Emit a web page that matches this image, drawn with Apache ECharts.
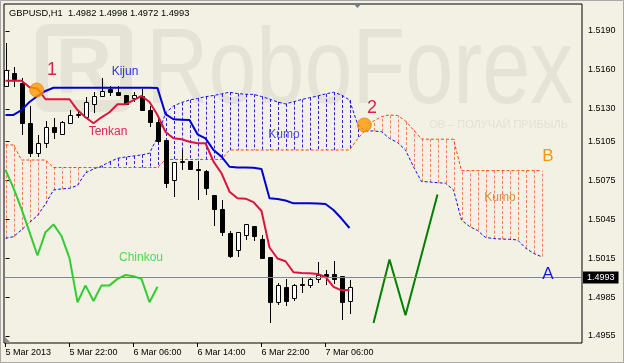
<!DOCTYPE html>
<html>
<head>
<meta charset="utf-8">
<title>GBPUSD H1 Ichimoku</title>
<script src="https://cdn.jsdelivr.net/npm/echarts@6.0.0/dist/echarts.min.js"></script>
<style>
  html, body { margin: 0; padding: 0; background: #F3F1E4; }
  #chart { width: 624px; height: 363px; }
</style>
</head>
<body>
<div id="chart"></div>
<script>
// GBPUSD H1, 5-7 Mar 2013 with Ichimoku Kinko Hyo
const symbol = "GBPUSD,H1";
const timeLabels = ["5 Mar 2013", "5 Mar 22:00", "6 Mar 06:00", "6 Mar 14:00", "6 Mar 22:00", "7 Mar 06:00"];
const timeLabelBars = [0, 8, 16, 24, 32, 40];
const priceTicks = [1.5190, 1.5160, 1.5130, 1.5105, 1.5075, 1.5045, 1.5015, 1.4985, 1.4955];

// open, close, low, high
const candles = [
  [1.5148, 1.5160, 1.5147, 1.5181],
  [1.5158, 1.5153, 1.5147, 1.5162],
  [1.5150, 1.5119, 1.5110, 1.5154],
  [1.5119, 1.5096, 1.5093, 1.5132],
  [1.5096, 1.5104, 1.5093, 1.5110],
  [1.5104, 1.5116, 1.5100, 1.5121],
  [1.5116, 1.5112, 1.5107, 1.5123],
  [1.5111, 1.5120, 1.5110, 1.5121],
  [1.5119, 1.5125, 1.5119, 1.5129],
  [1.5125, 1.5126, 1.5123, 1.5128],
  [1.5124, 1.5135, 1.5123, 1.5139],
  [1.5134, 1.5140, 1.5127, 1.5143],
  [1.5140, 1.5144, 1.5140, 1.5154],
  [1.5145, 1.5143, 1.5140, 1.5148],
  [1.5143, 1.5141, 1.5140, 1.5148],
  [1.5141, 1.5134, 1.5134, 1.5141],
  [1.5138, 1.5141, 1.5135, 1.5143],
  [1.5140, 1.5129, 1.5129, 1.5145],
  [1.5129, 1.5120, 1.5116, 1.5132],
  [1.5120, 1.5105, 1.5104, 1.5124],
  [1.5106, 1.5073, 1.5069, 1.5106],
  [1.5075, 1.5089, 1.5062, 1.5089],
  [1.5089, 1.5090, 1.5083, 1.5098],
  [1.5090, 1.5084, 1.5083, 1.5090],
  [1.5084, 1.5083, 1.5060, 1.5090],
  [1.5082, 1.5069, 1.5064, 1.5083],
  [1.5064, 1.5053, 1.5040, 1.5064],
  [1.5053, 1.5035, 1.5032, 1.5060],
  [1.5034, 1.5017, 1.5015, 1.5036],
  [1.5021, 1.5035, 1.5016, 1.5035],
  [1.5033, 1.5041, 1.5029, 1.5041],
  [1.5040, 1.5032, 1.5028, 1.5040],
  [1.5030, 1.5015, 1.5015, 1.5033],
  [1.5016, 1.4981, 1.4965, 1.5016],
  [1.4981, 1.4994, 1.4979, 1.4996],
  [1.4993, 1.4982, 1.4978, 1.4999],
  [1.4984, 1.4994, 1.4982, 1.4995],
  [1.4995, 1.4994, 1.4988, 1.5000],
  [1.4994, 1.4999, 1.4992, 1.5000],
  [1.4999, 1.5002, 1.4996, 1.5012],
  [1.5003, 1.5001, 1.4994, 1.5006],
  [1.5003, 1.4999, 1.4995, 1.5013],
  [1.5001, 1.4981, 1.4967, 1.5001],
  [1.4982, 1.4993, 1.4972, 1.4998]
];

const tenkan = [1.51517, 1.51517, 1.51517, 1.51466, 1.51457, 1.51374, 1.51374, 1.51374, 1.51374, 1.51291,
  1.51235, 1.51189, 1.51235, 1.51274, 1.51335, 1.51335, 1.51368, 1.51399, 1.51353, 1.51253,
  1.51122, 1.51073, 1.51066, 1.51047, 1.51035, 1.51035, 1.50893, 1.50804, 1.50662, 1.50611,
  1.50608, 1.50582, 1.50513, 1.50232, 1.50147, 1.50126, 1.50041, 1.50035, 1.50033, 1.50028,
  1.50005, 1.49928, 1.49902, 1.49904];

const kijun = [1.51253, 1.51253, 1.51291, 1.51353, 1.51399, 1.51438, 1.51463, 1.51463, 1.51463, 1.51463,
  1.51463, 1.51463, 1.51463, 1.51463, 1.51463, 1.51463, 1.51463, 1.51463, 1.51463, 1.5146,
  1.5126, 1.5122, 1.51217, 1.51214, 1.51104, 1.51073, 1.50983, 1.50932, 1.50854, 1.50848,
  1.50848, 1.50847, 1.50837, 1.50611, 1.50606, 1.50594, 1.50572, 1.50572, 1.50572, 1.5057,
  1.50567, 1.50521, 1.50455, 1.50382];

const senkouA = [1.50303, 1.50315, 1.50367, 1.50425, 1.50478, 1.50567, 1.50675, 1.50683, 1.50688, 1.5071,
  1.50806, 1.50837, 1.5086, 1.50891, 1.50919, 1.50929, 1.50937, 1.50945, 1.50958, 1.51083,
  1.51268, 1.51322, 1.51349, 1.51368, 1.5138, 1.51394, 1.51403, 1.51415, 1.51428, 1.51418,
  1.51412, 1.51412, 1.51395, 1.51376, 1.51353, 1.51338, 1.51355, 1.51372, 1.51386, 1.51399,
  1.51415, 1.51428, 1.51407, 1.51368, 1.51183, 1.5113, 1.5113, 1.51124, 1.51072, 1.51041,
  1.50983, 1.50854, 1.5074, 1.50737, 1.50731, 1.50727, 1.50675, 1.50444, 1.50394, 1.50363,
  1.50309, 1.50301, 1.50297, 1.50295, 1.5029, 1.50228, 1.50187, 1.50161];

const senkouB = [1.51022, 1.51022, 1.50906, 1.50906, 1.50906, 1.50906, 1.50848, 1.50848, 1.50848, 1.50848,
  1.50848, 1.50848, 1.50848, 1.50848, 1.50848, 1.50848, 1.50848, 1.50848, 1.50848, 1.50848,
  1.5091, 1.5091, 1.5091, 1.5091, 1.5091, 1.5091, 1.5091, 1.5091, 1.50983, 1.50983,
  1.50983, 1.50983, 1.50983, 1.50983, 1.50983, 1.50983, 1.50983, 1.50983, 1.50983, 1.50983,
  1.50983, 1.50983, 1.50983, 1.50983, 1.51068, 1.51137, 1.51207, 1.5124, 1.51253, 1.51249,
  1.51207, 1.51137, 1.51068, 1.51066, 1.51066, 1.51066, 1.51066, 1.50824, 1.50824, 1.50824,
  1.50824, 1.50824, 1.50824, 1.50824, 1.50824, 1.50824, 1.50824, 1.50824];

// chinkou = close shifted back
const chinkouShift = 24;
const chinkou = candles.slice(chinkouShift).map(d => d[1]);

// hand-drawn forecast and the two marked crossings: [bar, price]
const forecast = [[46, 1.4965], [48, 1.5014], [50, 1.4971], [54, 1.5064]];
const signals = [[3.9, 1.51445], [44.85, 1.51176]];

const font = '"Liberation Sans", Arial, sans-serif';
const last = candles[candles.length - 1];
const lastClose = last[1];

const blueLine = "#1010E6", blueHatch = "#2424E0";
const orangeLine = "#FF4500", orangeHatch = "#F47E55";

function pairs(arr) {
  return arr.map((v, i) => [i, v]);
}

function renderCandle(params, api) {
  const i = api.value(0);
  const o = api.value(1), c = api.value(2), l = api.value(3), h = api.value(4);
  const pO = api.coord([i, o]), pC = api.coord([i, c]);
  const pL = api.coord([i, l]), pH = api.coord([i, h]);
  const x = Math.round(pO[0]);
  const top = Math.round(Math.min(pO[1], pC[1]));
  const bot = Math.round(Math.max(pO[1], pC[1]));
  return {
    type: "group",
    children: [
      { type: "line", shape: { x1: x + 0.5, y1: Math.round(pH[1]), x2: x + 0.5, y2: Math.round(pL[1]) },
        style: { stroke: "#000", lineWidth: 1 } },
      { type: "rect", shape: { x: x - 1.5, y: top + 0.5, width: 4, height: Math.max(bot - top, 1) },
        style: { fill: c >= o ? "#fff" : "#000", stroke: "#000", lineWidth: 1 } }
    ]
  };
}

function renderHatch(params, api) {
  const i = api.value(0), a = api.value(1), b = api.value(2);
  const pa = api.coord([i, a]), pb = api.coord([i, b]);
  const x = Math.round(pa[0]) + 0.5;
  return {
    type: "line",
    shape: { x1: x, y1: pa[1], x2: x, y2: pb[1] },
    style: { stroke: a > b ? blueHatch : orangeHatch, lineWidth: 1, lineDash: [3, 2] }
  };
}

function label(text, x, y, color, size) {
  return {
    type: "text", x: x, y: y, z: 100,
    style: { text: text, fill: color, font: size + "px " + font,
      align: "center", verticalAlign: "middle", textAlign: "center", textVerticalAlign: "middle" }
  };
}

const chart = echarts.init(document.getElementById("chart"));

const option = {
  animation: false,
  backgroundColor: "#F3F1E4",
  grid: { left: 4, right: 42, top: 4, bottom: 20, show: true, borderColor: "#000", borderWidth: 1, backgroundColor: "transparent" },
  xAxis: {
    type: "value", min: -0.1875, max: 72.0625,
    axisLine: { show: false },
    splitLine: { show: false },
    axisTick: { show: true, customValues: timeLabelBars, length: 4, lineStyle: { color: "#000" } },
    axisLabel: {
      customValues: timeLabelBars,
      formatter: v => timeLabels[timeLabelBars.indexOf(Math.round(v))] || "",
      align: "left", margin: 5, color: "#000", fontSize: 9, fontFamily: font
    }
  },
  yAxis: {
    type: "value", position: "right", min: 1.49496, max: 1.52108,
    axisLine: { show: false },
    splitLine: { show: false },
    axisTick: { show: true, customValues: priceTicks, length: 4, lineStyle: { color: "#000" } },
    axisLabel: {
      customValues: priceTicks,
      formatter: v => v.toFixed(4),
      margin: 6, color: "#000", fontSize: 9, fontFamily: font
    }
  },
  graphic: [
    // watermark
    { type: "rect", z: -1, shape: { x: 42, y: 30, width: 84, height: 76, r: 6 },
      style: { fill: "none", stroke: "#E4E3D6", lineWidth: 12 } },
    { type: "text", z: -1, x: 84, y: 70,
      style: { text: "R", fill: "#E4E3D6", font: "bold 78px " + font, align: "center", verticalAlign: "middle", textAlign: "center", textVerticalAlign: "middle" } },
    { type: "text", z: -1, x: 146, y: 73, scaleX: 0.8,
      style: { text: "RoboForex", fill: "#E4E3D6", font: "108px " + font, verticalAlign: "middle", textVerticalAlign: "middle" } },
    { type: "text", z: -1, x: 568, y: 125,
      style: { text: "ОВ – ПОЛУЧАЙ ПРИБЫЛЬ", fill: "#E2E1D4", font: "11px " + font, align: "right", verticalAlign: "middle", textAlign: "right", textVerticalAlign: "middle" } },
    // frame and chart markers
    { type: "rect", z: 90, shape: { x: 0.5, y: 0.5, width: 623, height: 362 }, style: { fill: "none", stroke: "#A8A8A8", lineWidth: 1 } },
    { type: "polygon", z: 90, shape: { points: [[353, 3], [362, 3], [357.5, 8]] }, style: { fill: "#6E7B8B" } },
    { type: "polygon", z: 90, shape: { points: [[5, 337], [5, 343], [11, 343]] }, style: { fill: "#8A8A8A" } },
    // header
    { type: "text", z: 100, x: 9, y: 13,
      style: { text: symbol + "  " + [last[0], last[3], last[2], last[1]].map(v => v.toFixed(4)).join(" "),
        fill: "#000", font: "9.3px " + font, verticalAlign: "middle", textVerticalAlign: "middle" } },
    // annotations
    label("1", 52, 70, "#E01E50", 18),
    label("2", 372, 108, "#E01E50", 18),
    label("Kijun", 125, 72, "#2F2FE0", 12),
    label("Tenkan", 108, 132, "#E0245A", 12),
    label("Kumo", 284, 135, "#5050D8", 12),
    label("Kumo", 500, 198, "#D98E3F", 12),
    label("Chinkou", 141, 258, "#50D850", 12),
    label("B", 548, 156, "#FF9600", 17),
    label("A", 548, 274, "#1414E0", 17)
  ],
  series: [
    {
      name: "Kumo", type: "custom", z: 1, clip: true,
      renderItem: renderHatch,
      encode: { x: 0, y: [1, 2] },
      data: senkouA.map((a, i) => [i, a, senkouB[i]])
    },
    {
      name: "Senkou A", type: "line", z: 1, symbol: "none", clip: true,
      lineStyle: { color: blueLine, width: 1, type: [3, 2] },
      data: pairs(senkouA),
      markLine: {
        silent: true, symbol: ["none", "none"],
        lineStyle: { color: "#7A8898", width: 1, type: "solid" },
        label: { position: "end", distance: 1, formatter: lastClose.toFixed(4), color: "#fff",
          backgroundColor: "#000", padding: [2, 4, 1, 4], fontSize: 9, fontFamily: font },
        data: [{ yAxis: lastClose }]
      }
    },
    {
      name: "Senkou B", type: "line", z: 1, symbol: "none", clip: true,
      lineStyle: { color: orangeLine, width: 1, type: [3, 2] },
      data: pairs(senkouB)
    },
    {
      name: "GBPUSD", type: "custom", z: 2, clip: true,
      renderItem: renderCandle,
      encode: { x: 0, y: [1, 2, 3, 4] },
      data: candles.map((d, i) => [i].concat(d))
    },
    {
      name: "Tenkan", type: "line", z: 3, symbol: "none",
      lineStyle: { color: "#DC143C", width: 2 },
      data: pairs(tenkan)
    },
    {
      name: "Kijun", type: "line", z: 3, symbol: "none",
      lineStyle: { color: "#0000CD", width: 2 },
      data: pairs(kijun)
    },
    {
      name: "Chinkou", type: "line", z: 3, symbol: "none",
      lineStyle: { color: "#32CD32", width: 2 },
      data: pairs(chinkou)
    },
    {
      name: "Forecast", type: "line", z: 3, symbol: "none",
      lineStyle: { color: "#008000", width: 2 },
      data: forecast
    },
    {
      name: "Signals", type: "scatter", z: 4, symbolSize: 14,
      itemStyle: { color: "#FF9A00", borderColor: "#F28500", borderWidth: 1 },
      data: signals
    }
  ]
};

chart.setOption(option);
</script>
</body>
</html>
